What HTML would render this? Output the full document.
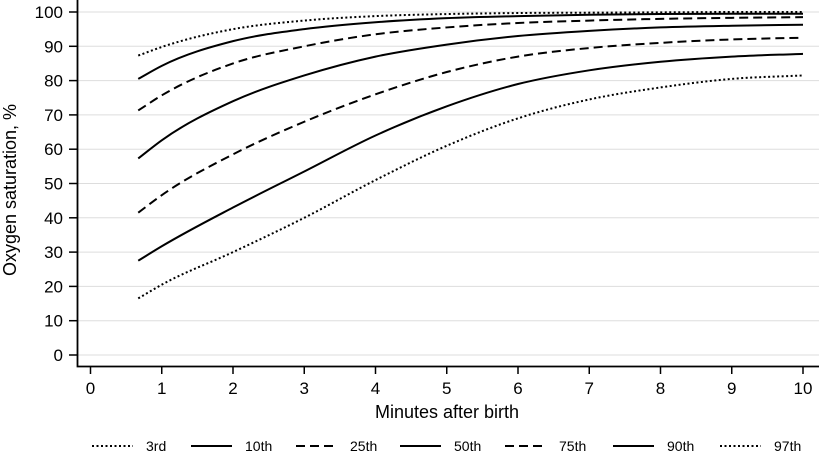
<!DOCTYPE html>
<html><head><meta charset="utf-8"><style>
body{margin:0;background:#fff;}
svg{display:block;font-family:"Liberation Sans",Arial,sans-serif;}
</style></head><body>
<svg id="chart" width="819" height="452" viewBox="0 0 819 452">
<g id="grid"></g>
<g id="series"></g>
<g id="axes"></g>
<text transform="translate(16,190) rotate(-90)" text-anchor="middle" font-size="18">Oxygen saturation, %</text>
<text x="447" y="418" text-anchor="middle" font-size="18">Minutes after birth</text>
<g id="legend"></g>
</svg>
<script>
const minutes=[0.67,1,2,3,4,5,6,7,8,9,10];
const seriesNames=["3rd","10th","25th","50th","75th","90th","97th"];
const p3=[16.5,20.5,30,40,51,61,69,74.5,78,80.5,81.5];
const p10=[27.5,31.7,43,53.5,64,72.5,79,83,85.5,87,87.8];
const p25=[41.5,46.6,58.5,68,76,82.5,87,89.5,91,92,92.5];
const p50=[57.3,62.6,74,81.5,87,90.5,93,94.5,95.5,96,96.3];
const p75=[71.3,75.7,85,90,93.5,95.5,96.8,97.5,98,98.3,98.5];
const p90=[80.5,84.3,91.5,95,97,98.2,98.8,99.2,99.4,99.5,99.5];
const p97=[87.3,89.8,95,97.5,98.8,99.4,99.7,99.8,99.9,100,100];
const xTicks=[0,1,2,3,4,5,6,7,8,9,10];
const yTicks=[0,10,20,30,40,50,60,70,80,90,100];

const allSeries=[p3,p10,p25,p50,p75,p90,p97];
const styles=["2,2.5","","9,5","","9,5","","2,2.5"];
const widths=[2,2,2,2,2,2,2];
const legendX=[92,191,296,400,505,613,720];
const NS="http://www.w3.org/2000/svg";
const X=v=>90.5+v*71.25;
const Y=v=>355-v*3.43;
function mk(tag,attrs,parent){const e=document.createElementNS(NS,tag);for(const k in attrs)e.setAttribute(k,attrs[k]);parent.appendChild(e);return e;}
const grid=document.getElementById('grid'),axes=document.getElementById('axes'),ser=document.getElementById('series'),leg=document.getElementById('legend');
yTicks.forEach(t=>{
 const g=mk('line',{x1:78,x2:819,y1:Y(t),y2:Y(t),stroke:'#ddd','stroke-width':1},grid);
 
 
 const tk=mk('line',{x1:69,x2:78,y1:Y(t),y2:Y(t),stroke:'#000','stroke-width':1.5},axes);
 
 
 const tx=mk('text',{x:63,y:Y(t)+6,'text-anchor':'end','font-size':17},axes);
 tx.textContent=t;
 
 
});
xTicks.forEach(t=>{
 const tk=mk('line',{x1:X(t),x2:X(t),y1:367,y2:374,stroke:'#000','stroke-width':1.5},axes);
 
 
 const tx=mk('text',{x:X(t),y:394,'text-anchor':'middle','font-size':17},axes);
 tx.textContent=t;
 
 
});
const ax=mk('path',{d:'M77.5,0 V366.5 H819',fill:'none',stroke:'#000','stroke-width':1.8},axes);


function smooth(pts){
 const n=pts.length,m=[];
 const s=[];for(let i=0;i<n-1;i++)s.push((pts[i+1][1]-pts[i][1])/(pts[i+1][0]-pts[i][0]));
 for(let i=0;i<n;i++){
  if(i==0)m.push(s[0]);else if(i==n-1)m.push(s[n-2]);
  else{const h0=pts[i][0]-pts[i-1][0],h1=pts[i+1][0]-pts[i][0];m.push((s[i-1]*h1+s[i]*h0)/(h0+h1));}
 }
 let d=`M${pts[0][0]},${pts[0][1]}`;
 for(let i=0;i<n-1;i++){
  const h=(pts[i+1][0]-pts[i][0])/3;
  d+=` C${pts[i][0]+h},${pts[i][1]+m[i]*h} ${pts[i+1][0]-h},${pts[i+1][1]-m[i+1]*h} ${pts[i+1][0]},${pts[i+1][1]}`;
 }
 return d;
}
allSeries.forEach((s,i)=>{
 const pts=s.map((v,j)=>[X(minutes[j]),Y(v)]);
 const p=mk('path',{d:smooth(pts),fill:'none',stroke:'#000','stroke-width':widths[i],'stroke-dasharray':styles[i]},ser);
 
 
 const lx=legendX[i];
 const ll=mk('line',{x1:lx,x2:lx+41,y1:446,y2:446,stroke:'#000','stroke-width':widths[i],'stroke-dasharray':styles[i]},leg);
 
 
 const lt=mk('text',{x:lx+54,y:451,'font-size':14},leg);
 lt.textContent=seriesNames[i];
 
 
});
</script>
</body></html>
